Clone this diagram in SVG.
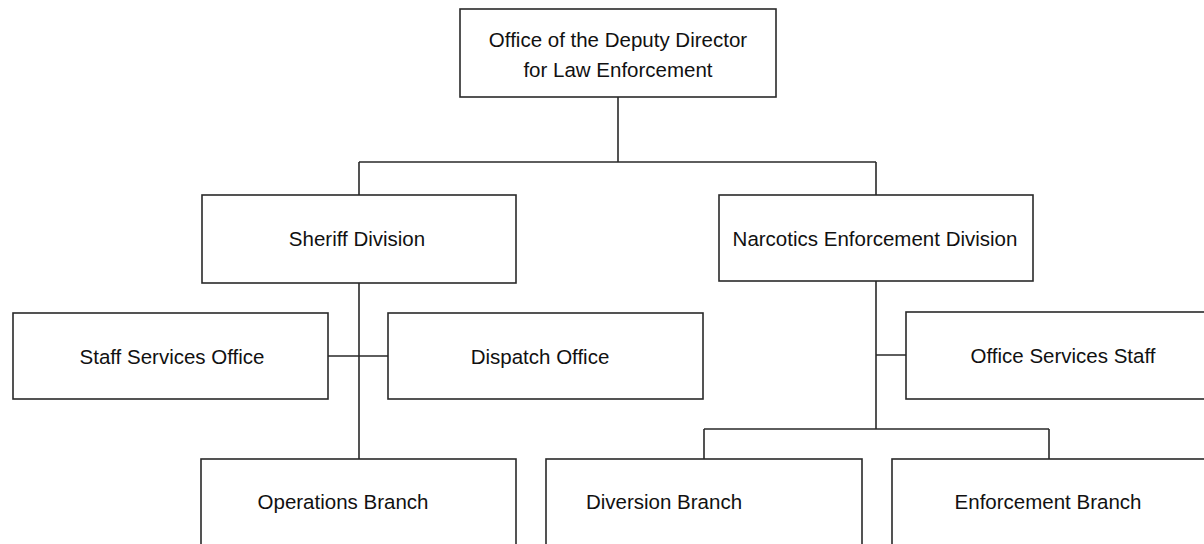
<svg xmlns="http://www.w3.org/2000/svg" width="1204" height="544" viewBox="0 0 1204 544">
<style>
.box{fill:#fff;stroke:#2a2a2a;stroke-width:1.6}
.ln{fill:none;stroke:#2a2a2a;stroke-width:1.6}
text{font-family:"Liberation Sans",Arial,sans-serif;font-size:20.5px;fill:#111;text-anchor:middle}
</style>
<rect width="1204" height="544" fill="#fff"/>
<g id="connectors">
<path class="ln" d="M618 97V162M359 162H876M359 162V195M876 162V195"/>
<path class="ln" d="M359 283V459M328 356H388"/>
<path class="ln" d="M876 281V429M876 355H906M704 429H1049M704 429V459M1049 429V459"/>
</g>
<g id="deputy-director"><rect class="box" x="460" y="9" width="316" height="88"/><text x="618" y="47">Office of the Deputy Director</text><text x="618" y="77">for Law Enforcement</text></g>
<g id="sheriff"><rect class="box" x="202" y="195" width="314" height="88"/><text x="357" y="246">Sheriff Division</text></g>
<g id="narcotics"><rect class="box" x="719" y="195" width="314" height="86"/><text x="875" y="246">Narcotics Enforcement Division</text></g>
<g id="staff-services"><rect class="box" x="13" y="313" width="315" height="86"/><text x="172" y="364">Staff Services Office</text></g>
<g id="dispatch"><rect class="box" x="388" y="313" width="315" height="86"/><text x="540" y="364">Dispatch Office</text></g>
<g id="office-services"><rect class="box" x="906" y="312" width="315" height="87"/><text x="1063" y="363">Office Services Staff</text></g>
<g id="operations"><rect class="box" x="201" y="459" width="315" height="100"/><text x="343" y="509">Operations Branch</text></g>
<g id="diversion"><rect class="box" x="546" y="459" width="316" height="100"/><text x="664" y="509">Diversion Branch</text></g>
<g id="enforcement"><rect class="box" x="892" y="459" width="316" height="100"/><text x="1048" y="509">Enforcement Branch</text></g>
</svg>
